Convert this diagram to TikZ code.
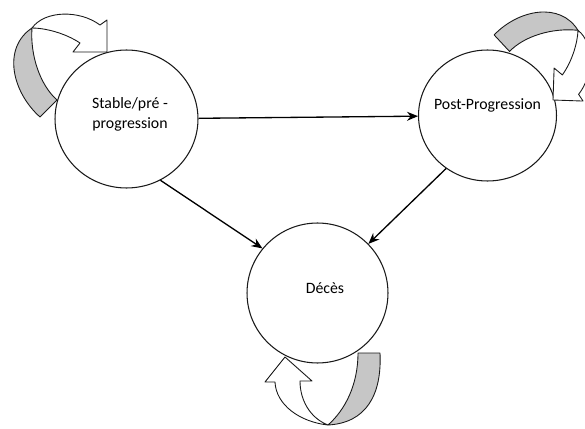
\documentclass[tikz,border=0pt]{standalone}
\usepackage{fontspec}
\setmainfont{Carlito}
\usetikzlibrary{arrows.meta,shapes.geometric}

\tikzset{
  state/.style={ellipse, draw=black!90, line width=0.6pt, inner sep=0pt, fill=white},
  statetext/.style={font=\fontsize{9}{11}\selectfont, align=center, text=black},
  trans/.style={line width=0.75pt, -{Stealth[length=2.2mm,width=1.8mm]}},
  bandfront/.style={draw=black!90, line width=0.5pt, fill=white, line join=round},
  bandback/.style={draw=black!90, line width=0.5pt, fill=gray!45, line join=round}
}

% curled block arrow, corner of the head at the origin
\newcommand{\stateloop}{%
  \draw[bandback] (-67,65) .. controls (-95,40) and (-105,-4) .. (-75,-24)
    .. controls (-77,3) and (-67,33) .. (-50,48) -- cycle;
  \draw[bandfront] (-75,-24) .. controls (-62,-42) and (-27,-42) .. (-7,-27)
    -- (0,-32) -- (0,0) -- (-34,0) -- (-27,-9)
    .. controls (-42,-19) and (-62,-24) .. (-75,-24) -- cycle;
}

\begin{document}
\begin{tikzpicture}[x=0.02cm, y=-0.02cm]
    \useasboundingbox (0,0) rectangle (585,429);

    % States
    \node[state, minimum width=2.86cm, minimum height=2.76cm,
      label={[statetext, xshift=0.07cm, yshift=0.09cm]center:Stable/pré -\\progression}]
      (stable) at (126.5,119) {};
    \node[state, minimum width=2.76cm, minimum height=2.62cm,
      label={[statetext, yshift=0.21cm]center:Post-Progression}]
      (post) at (487.5,115.5) {};
    \node[state, minimum width=2.82cm, minimum height=2.8cm,
      label={[statetext, xshift=0.15cm, yshift=0.09cm]center:Décès}]
      (deces) at (317.5,293) {};

    % Transitions
    \draw[trans] (stable) -- (post);
    \draw[trans] (stable.-61) -- (deces.141);
    \draw[trans] (post.-128) -- (deces.44);

    % Staying in the same state
    \begin{scope}[shift={(107,52)}]
      \stateloop
    \end{scope}
    \begin{scope}[shift={(553,100)}, rotate=-92, scale=0.94]
      \stateloop
    \end{scope}

    \draw[bandback] (358,353) -- (380,353) .. controls (382,395) and (366,423) .. (328,425)
      .. controls (345,410) and (358,385) .. (358,353) -- cycle;
    \draw[bandfront] (328,425) .. controls (300,422) and (276,405) .. (275,382)
      -- (265,382) -- (285,357) -- (312,381) -- (300,381)
      .. controls (300,400) and (310,418) .. (328,425) -- cycle;
\end{tikzpicture}
\end{document}
